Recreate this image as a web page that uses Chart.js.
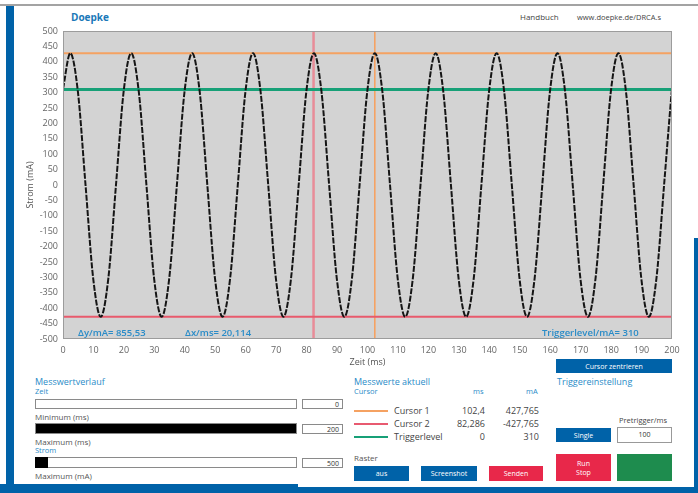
<!DOCTYPE html>
<html>
<head>
<meta charset="utf-8">
<script src="https://cdn.jsdelivr.net/npm/chart.js@4.4.0/dist/chart.umd.min.js"></script>
<style>
  html, body { margin:0; padding:0; }
  body { width:698px; height:493px; background:#fff; position:relative; overflow:hidden; font-family:"Open Sans","Noto Sans",sans-serif; color:#555; }
  .abs { position:absolute; white-space:nowrap; }
  .blue { color:#2a8cc8; }
  .sm { font-size:7.5px; }
  .lb { font-size:8px; }
  .md { font-size:9px; }
  .pl { font-size:9.5px; font-weight:600; color:#2a8cc8; }
  .btn { position:absolute; color:#fff; font-size:7px; display:flex; align-items:center; justify-content:center; text-align:center; line-height:9px; }
  .inp { position:absolute; background:#fff; border:1px solid #8a8a8a; box-sizing:border-box; font-size:7px; color:#333; text-align:right; padding-right:3px; line-height:9px; }
  .bar { position:absolute; border:1px solid #8a8a8a; box-sizing:border-box; background:#fff; }
  .row { position:absolute; font-size:9px; color:#444; }
</style>
</head>
<body>
<!-- frame -->
<div class="abs" style="left:0;top:4px;width:698px;height:2px;background:#a3a3a3"></div>
<div class="abs" style="left:6px;top:6px;width:8px;height:480px;background:#0062a8"></div>
<div class="abs" style="left:0;top:484px;width:298px;height:9px;background:#0062a8"></div>
<div class="abs" style="left:298px;top:487px;width:400px;height:6px;background:#0062a8"></div>
<div class="abs" style="left:694px;top:238px;width:4px;height:255px;background:#0062a8"></div>

<div class="abs" style="left:71px;top:10px;font-size:10px;font-weight:bold;color:#1a78b8">Doepke</div>
<div class="abs lb" style="left:520px;top:11px;color:#444">Handbuch</div>
<div class="abs sm" style="left:577px;top:12px;color:#444">www.doepke.de/DRCA.s</div>

<div class="abs" style="left:0;top:0;width:698px;height:372px">
  <canvas id="c" width="698" height="372"></canvas>
</div>

<div class="abs pl" style="left:78px;top:326px">Δy/mA= 855,53</div>
<div class="abs pl" style="left:185px;top:326px">Δx/ms= 20,114</div>
<div class="abs pl" style="left:542px;top:326px">Triggerlevel/mA= 310</div>

<!-- left bottom panel -->
<div class="abs md blue" style="left:35px;top:375px">Messwertverlauf</div>
<div class="abs sm blue" style="left:35px;top:386px">Zeit</div>
<div class="bar" style="left:35px;top:399px;width:262px;height:10px"></div>
<div class="inp" style="left:302px;top:399px;width:41px;height:10px">0</div>
<div class="abs lb" style="left:35px;top:411px">Minimum (ms)</div>
<div class="bar" style="left:35px;top:423px;width:262px;height:11px;background:#000"></div>
<div class="inp" style="left:302px;top:424px;width:41px;height:10px">200</div>
<div class="abs lb" style="left:35px;top:436px">Maximum (ms)</div>
<div class="abs sm blue" style="left:35px;top:445px">Strom</div>
<div class="bar" style="left:35px;top:457px;width:262px;height:11px"></div>
<div class="abs" style="left:35px;top:457px;width:13px;height:11px;background:#000"></div>
<div class="inp" style="left:302px;top:458px;width:41px;height:10px">500</div>
<div class="abs lb" style="left:35px;top:470px">Maximum (mA)</div>

<!-- middle panel -->
<div class="abs md blue" style="left:354px;top:375px">Messwerte aktuell</div>
<div class="abs sm blue" style="left:354px;top:386px">Cursor</div>
<div class="abs sm blue" style="left:473px;top:386px">ms</div>
<div class="abs sm blue" style="left:526px;top:386px">mA</div>

<div class="abs" style="left:354px;top:410px;width:34px;height:2px;background:#f5a262"></div>
<div class="row" style="left:394px;top:404px">Cursor 1</div>
<div class="row" style="left:436px;top:404px;width:49px;text-align:right">102,4</div>
<div class="row" style="left:486px;top:404px;width:53px;text-align:right">427,765</div>

<div class="abs" style="left:354px;top:423px;width:34px;height:2px;background:#e85a70"></div>
<div class="row" style="left:394px;top:417px">Cursor 2</div>
<div class="row" style="left:436px;top:417px;width:49px;text-align:right">82,286</div>
<div class="row" style="left:486px;top:417px;width:53px;text-align:right">-427,765</div>

<div class="abs" style="left:354px;top:436px;width:34px;height:2px;background:#17a077"></div>
<div class="row" style="left:394px;top:430px">Triggerlevel</div>
<div class="row" style="left:436px;top:430px;width:49px;text-align:right">0</div>
<div class="row" style="left:486px;top:430px;width:53px;text-align:right">310</div>

<div class="abs lb" style="left:354px;top:452px">Raster</div>
<div class="btn" style="left:354px;top:466px;width:55px;height:15px;background:#0062a8">aus</div>
<div class="btn" style="left:421px;top:466px;width:56px;height:15px;background:#0062a8">Screenshot</div>
<div class="btn" style="left:489px;top:466px;width:54px;height:15px;background:#e8284a">Senden</div>

<!-- right panel -->
<div class="btn" style="left:556px;top:359px;width:116px;height:14px;background:#0062a8">Cursor zentrieren</div>
<div class="abs md blue" style="left:557px;top:375px">Triggereinstellung</div>
<div class="abs sm" style="left:619px;top:415px;color:#444">Pretrigger/ms</div>
<div class="btn" style="left:556px;top:428px;width:55px;height:14px;background:#0062a8">Single</div>
<div class="inp" style="left:617px;top:427px;width:55px;height:16px;border:1.5px solid #999;text-align:center;padding:0;line-height:13px">100</div>
<div class="btn" style="left:556px;top:454px;width:55px;height:27px;background:#e8284a">Run<br>Stop</div>
<div class="abs" style="left:617px;top:454px;width:55px;height:27px;background:#1e8c4e"></div>

<script>
// ---- data ----
const timeMs = [0,
  2.4, 4.9, 7.4, 9.9, 12.4, 14.9, 17.4, 19.9,
  22.4, 24.9, 27.4, 29.9, 32.4, 34.9, 37.4, 39.9,
  42.4, 44.9, 47.4, 49.9, 52.4, 54.9, 57.4, 59.9,
  62.4, 64.9, 67.4, 69.9, 72.4, 74.9, 77.4, 79.9,
  82.4, 84.9, 87.4, 89.9, 92.4, 94.9, 97.4, 99.9,
  102.4, 104.9, 107.4, 109.9, 112.4, 114.9, 117.4, 119.9,
  122.4, 124.9, 127.4, 129.9, 132.4, 134.9, 137.4, 139.9,
  142.4, 144.9, 147.4, 149.9, 152.4, 154.9, 157.4, 159.9,
  162.4, 164.9, 167.4, 169.9, 172.4, 174.9, 177.4, 179.9,
  182.4, 184.9, 187.4, 189.9, 192.4, 194.9, 197.4, 199.9,
  200];
const stromMa = [312,
  428, 302, 0, -302, -428, -302, 0, 302,
  428, 302, 0, -302, -428, -302, 0, 302,
  428, 302, 0, -302, -428, -302, 0, 302,
  428, 302, 0, -302, -428, -302, 0, 302,
  428, 302, 0, -302, -428, -302, 0, 302,
  428, 302, 0, -302, -428, -302, 0, 302,
  428, 302, 0, -302, -428, -302, 0, 302,
  428, 302, 0, -302, -428, -302, 0, 302,
  428, 302, 0, -302, -428, -302, 0, 302,
  428, 302, 0, -302, -428, -302, 0, 302,
  312];
const cursorTimes = [102.4, 82.286];        // cursor 1, cursor 2 (ms)
const cursorCurrents = [427.765, -427.765]; // cursor 1, cursor 2 (mA)
const triggerLevel = [310];                 // mA
const xRange = [0, 200];
const yRange = [-500, 500];
const xStep = 10;
const yStep = 50;

// ---- build datasets ----
const signal = timeMs.map((t, i) => ({x: t, y: stromMa[i]}));
const vLine = t => [{x: t, y: yRange[0]}, {x: t, y: yRange[1]}];
const hLine = v => [{x: xRange[0], y: v}, {x: xRange[1], y: v}];

const bgPlugin = {
  id: 'bg',
  beforeDraw(chart) {
    const a = chart.chartArea, ctx = chart.ctx;
    ctx.save();
    ctx.fillStyle = '#d3d3d3';
    ctx.fillRect(a.left, a.top, a.right - a.left, a.bottom - a.top);
    ctx.restore();
  },
  afterDraw(chart) {
    const a = chart.chartArea, ctx = chart.ctx;
    ctx.save();
    ctx.strokeStyle = '#9c9c9c';
    ctx.lineWidth = 1;
    ctx.strokeRect(a.left + 0.5, a.top + 0.5, a.right - a.left - 1, a.bottom - a.top - 1);
    ctx.restore();
  }
};

const tickFont = {family: '"Open Sans","Noto Sans",sans-serif', size: 9};

new Chart(document.getElementById('c'), {
  type: 'scatter',
  data: {
    datasets: [
      {data: signal, showLine: true, borderColor: '#151515', borderWidth: 2, borderDash: [6, 1.5],
       pointRadius: 0, cubicInterpolationMode: 'monotone'},
      {data: hLine(cursorCurrents[0]), showLine: true, borderColor: '#f5a262', borderWidth: 2, pointRadius: 0},
      {data: hLine(triggerLevel[0]), showLine: true, borderColor: '#17a077', borderWidth: 3, pointRadius: 0},
      {data: hLine(cursorCurrents[1]), showLine: true, borderColor: '#e85a6c', borderWidth: 2, pointRadius: 0},
      {data: vLine(cursorTimes[0]), showLine: true, borderColor: '#f5a262', borderWidth: 1.6, pointRadius: 0},
      {data: vLine(cursorTimes[1]), showLine: true, borderColor: '#e88c98', borderWidth: 2.5, pointRadius: 0}
    ]
  },
  options: {
    responsive: false,
    animation: false,
    layout: {padding: {left: 24, right: 26, top: 31, bottom: 0}},
    plugins: {legend: {display: false}, tooltip: {enabled: false}},
    scales: {
      x: {
        type: 'linear', min: xRange[0], max: xRange[1],
        grid: {display: false, drawTicks: false},
        border: {display: false},
        ticks: {stepSize: xStep, autoSkip: false, maxRotation: 0, padding: 6, color: '#666', font: tickFont},
        title: {display: true, text: 'Zeit (ms)', color: '#555', font: tickFont, padding: {top: 0, bottom: 4}},
        afterFit(s) { s.height = 33; }
      },
      y: {
        type: 'linear', min: yRange[0], max: yRange[1],
        grid: {display: false, drawTicks: false},
        border: {display: false},
        ticks: {stepSize: yStep, autoSkip: false, padding: 5, color: '#666', font: tickFont},
        title: {display: true, text: 'Strom (mA)', color: '#555', font: tickFont, padding: {top: 1, bottom: 0}},
        afterFit(s) { s.width = 39; }
      }
    }
  },
  plugins: [bgPlugin]
});
</script>
</body>
</html>
